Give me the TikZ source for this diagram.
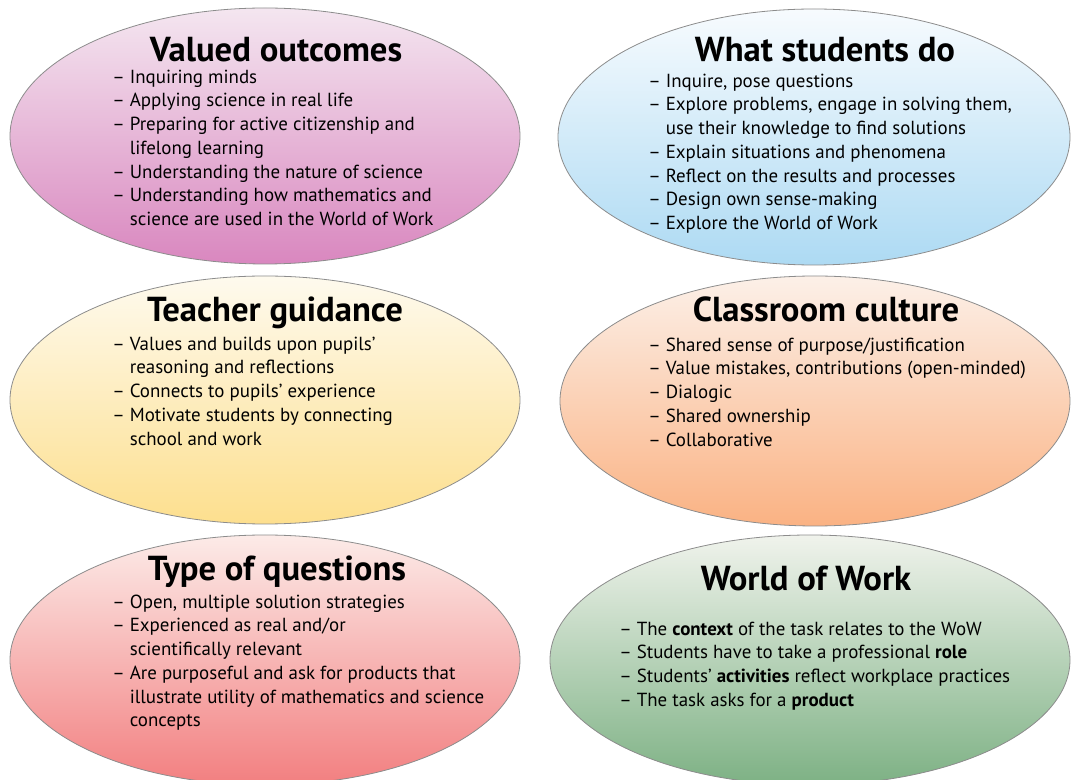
\documentclass[tikz,border=0pt]{standalone}
\usepackage{fontspec}
\setmainfont{PT Sans}

\definecolor{outTop}{HTML}{F4E6F0}
\definecolor{outBot}{HTML}{D987BF}
\definecolor{doTop}{HTML}{F7FBFE}
\definecolor{doBot}{HTML}{ADDAF3}
\definecolor{guideTop}{HTML}{FEFAEE}
\definecolor{guideBot}{HTML}{FDDF8E}
\definecolor{cultTop}{HTML}{FCF0E8}
\definecolor{cultBot}{HTML}{FAB283}
\definecolor{questTop}{HTML}{FCEBE8}
\definecolor{questBot}{HTML}{F27F80}
\definecolor{wowTop}{HTML}{F0F3EC}
\definecolor{wowBot}{HTML}{7DB184}

\tikzset{
  bubble/.style={draw={rgb, 255:red, 140; green, 140; blue, 140}, line width=0.6pt},
  headline/.style={font=\fontsize{26}{28}\selectfont\bfseries, inner sep=0pt, anchor=base},
  itemlist/.style={font=\fontsize{14.2}{17.8}\selectfont, align=left, inner sep=0pt, anchor=north west},
}
\newcommand{\ind}{\hphantom{--\ }}
\newcommand{\topline}{\rule{0pt}{10.5pt}}

\begin{document}
\begin{tikzpicture}[x=0.75pt,y=0.75pt,yscale=-1,xscale=1]
  \useasboundingbox (0,0) rectangle (1076,780);
  \fill[white] (0,0) rectangle (1076,780);

  %Shape: Ellipse (valued outcomes)
  \draw[bubble, top color=outTop, bottom color=outBot] (265,136) ellipse (255 and 128);
  %Shape: Ellipse (what students do)
  \draw[bubble, top color=doTop, bottom color=doBot] (814,137) ellipse (256 and 128);
  %Shape: Ellipse (teacher guidance)
  \draw[bubble, top color=guideTop, bottom color=guideBot] (265,400) ellipse (255 and 124);
  %Shape: Ellipse (classroom culture)
  \draw[bubble, top color=cultTop, bottom color=cultBot] (815,401) ellipse (255 and 125);
  %Shape: Ellipse (type of questions)
  \draw[bubble, top color=questTop, bottom color=questBot] (265,660) ellipse (255 and 125);
  %Shape: Ellipse (world of work)
  \draw[bubble, top color=wowTop, bottom color=wowBot] (810,660) ellipse (260 and 125);

  % Text Node
  \node[headline] (outTitle) at (276,62) {Valued outcomes};
  \node[itemlist] (outList) at (112,69) {\topline-- Inquiring minds\\
    -- Applying science in real life\\
    -- Preparing for active citizenship and\\
    \ind lifelong learning\\
    -- Understanding the nature of science\\
    -- Understanding how mathematics and\\
    \ind science are used in the World of Work};

  % Text Node
  \node[headline] (doTitle) at (825,62) {What students do};
  \node[itemlist] (doList) at (648,73) {\topline-- Inquire, pose questions\\
    -- Explore problems, engage in solving them,\\
    \ind use their knowledge to find solutions\\
    -- Explain situations and phenomena\\
    -- Reflect on the results and processes\\
    -- Design own sense-making\\
    -- Explore the World of Work};

  % Text Node
  \node[headline] (guideTitle) at (275,322) {Teacher guidance};
  \node[itemlist] (guideList) at (112,336) {\topline-- Values and builds upon pupils'\\
    \ind reasoning and reflections\\
    -- Connects to pupils' experience\\
    -- Motivate students by connecting\\
    \ind school and work};

  % Text Node
  \node[headline] (cultTitle) at (826,322) {Classroom culture};
  \node[itemlist] (cultList) at (648,337) {\topline-- Shared sense of purpose/justification\\
    -- Value mistakes, contributions (open-minded)\\
    -- Dialogic\\
    -- Shared ownership\\
    -- Collaborative};

  % Text Node
  \node[headline] (questTitle) at (277,581) {Type of questions};
  \node[itemlist] (questList) at (112,594) {\topline-- Open, multiple solution strategies\\
    -- Experienced as real and/or\\
    \ind scientifically relevant\\
    -- Are purposeful and ask for products that\\
    \ind illustrate utility of mathematics and science\\
    \ind concepts};

  % Text Node
  \node[headline] (wowTitle) at (806,591) {World of Work};
  \node[itemlist] (wowList) at (619,621) {\topline-- The \textbf{context} of the task relates to the WoW\\
    -- Students have to take a professional \textbf{role}\\
    -- Students' \textbf{activities} reflect workplace practices\\
    -- The task asks for a \textbf{product}};

\end{tikzpicture}
\end{document}
